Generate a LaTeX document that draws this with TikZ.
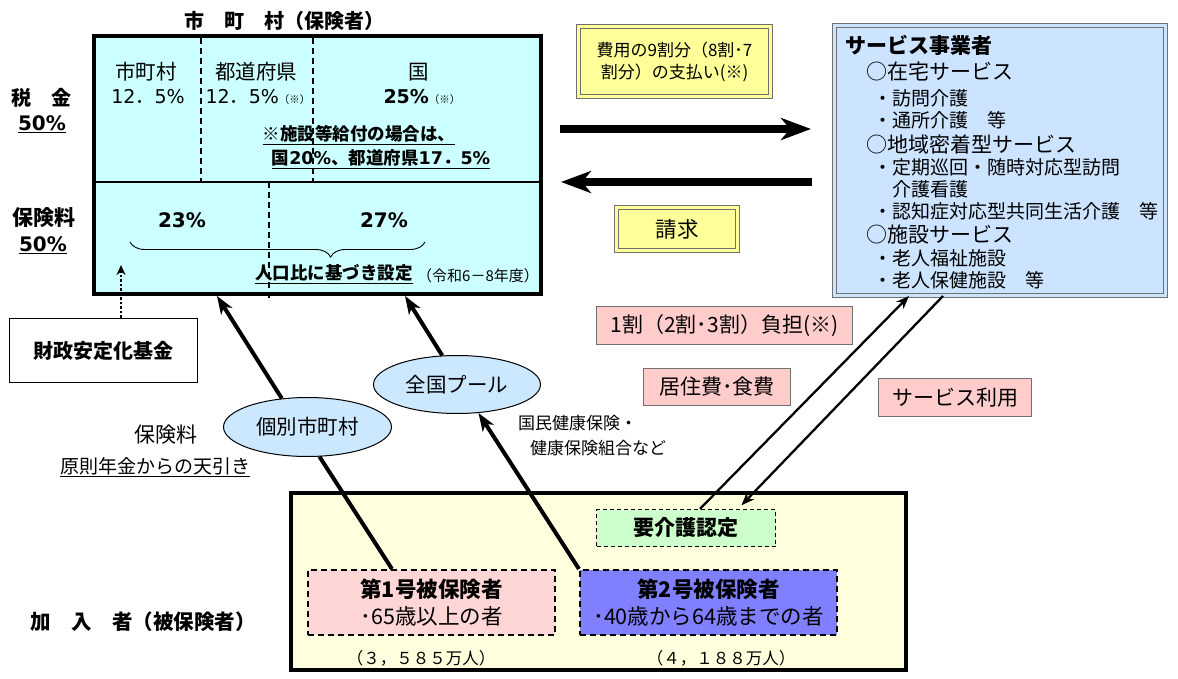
\documentclass[tikz,border=0pt]{standalone}
\usepackage{fontspec}
\setmainfont{Noto Sans CJK JP}
\newfontfamily\numfont{DejaVu Sans}
\usetikzlibrary{arrows.meta,shapes.geometric,decorations.pathreplacing,positioning}

\definecolor{municyan}{HTML}{CCFFFF}
\definecolor{payyellow}{HTML}{FFFF99}
\definecolor{servblue}{HTML}{CCE4FF}
\definecolor{poolblue}{HTML}{CCE8FF}
\definecolor{feepink}{HTML}{FFCCCC}
\definecolor{memberivory}{HTML}{FFFFDD}
\definecolor{certgreen}{HTML}{CCFFCC}
\definecolor{firstpink}{HTML}{FFD6D6}
\definecolor{secondblue}{HTML}{8080FF}
\definecolor{edgegray}{HTML}{707070}

\newcommand{\fsz}[2]{\fontsize{#1}{#2}\selectfont}
\newcommand{\digits}[1]{{\numfont #1}}

\begin{document}
\begin{tikzpicture}[
    x=1pt, y=-1pt,
    every node/.style={inner sep=0pt},
    heavybox/.style={draw, line width=4pt},
    twinbox/.style={draw=edgegray, line width=1pt, double=#1, double distance=3pt, fill=#1},
    pinkbox/.style={draw=edgegray, line width=1.2pt, fill=feepink, font=\fsz{21}{25}},
    dashbox/.style={draw, dash pattern=on 6pt off 4pt, line width=2pt, align=center},
    poolnode/.style={ellipse, draw, line width=1pt, fill=poolblue, font=\fsz{20.5}{24}},
    bigarrow/.style={line width=8pt, -{Stealth[length=30pt,width=22pt,inset=9pt]}},
    flowline/.style={line width=4pt},
    flowarrow/.style={line width=4pt, -{Stealth[length=18pt,width=13pt,inset=5pt]}},
    svcarrow/.style={line width=2.3pt, -{Stealth[length=13pt,width=10pt,inset=4pt]}},
    dotarrow/.style={line width=2.2pt, dash pattern=on 2.5pt off 2pt, -{Stealth[length=10pt,width=9pt]}},
    divider/.style={line width=1.2pt, dash pattern=on 6pt off 4pt},
    sidelbl/.style={font=\bfseries\fsz{20}{24}},
    cell/.style={font=\fsz{20.5}{24}},
    notetxt/.style={font=\bfseries\fsz{17.5}{21}},
    svchead/.style={anchor=west, font=\fsz{21}{25}},
    svcitem/.style={anchor=west, font=\fsz{19}{23}}
]
\useasboundingbox (0,0) rectangle (1178,679);

% insurer box
\node[sidelbl] (munititle) at (284,21) {市　町　村（保険者）};
\node[heavybox, fill=municyan, minimum width=447pt, minimum height=258pt] (muni) at (317.5,165) {};
\draw[line width=1.2pt] (94,182) -- (541,182);
\draw[divider] (201,38) -- (201,182);
\draw[divider] (313,38) -- (313,182);
\draw[divider] (269,182) -- (269,298);

\node[sidelbl] (taxlbl) at (41,98) {税　金};
\node[sidelbl, font=\bfseries\fsz{20}{24}] (taxpct) at (42,124) {\underline{\digits{50\%}}};
\node[sidelbl, font=\bfseries\fsz{21}{25}] (premlbl) at (44,218) {保険料};
\node[sidelbl, font=\bfseries\fsz{20}{24}] (prempct) at (43,245) {\underline{\digits{50\%}}};

\node[cell] (citylbl) at (146,72) {市町村};
\node[cell, font=\fsz{19}{23}] (citypct) at (148,97) {\digits{12}．\digits{5\%}};
\node[cell] (preflbl) at (256,72) {都道府県};
\node[cell, font=\fsz{19}{23}] (prefpct) at (258,97) {\digits{12}．\digits{5\%}{\fsz{10.5}{12}（※）}};
\node[cell] (natlbl) at (419,72) {国};
\node[cell, font=\fsz{19}{23}] (natpct) at (422,97) {\textbf{\digits{25\%}}{\fsz{10.5}{12}（※）}};
\node[notetxt] (facnote) at (359,135) {\underline{※施設等給付の場合は、}};
\node[notetxt] (facrate) at (381,159) {\underline{国\digits{20\%}、都道府県\digits{17}．\digits{5\%}}};

\node[notetxt, font=\bfseries\fsz{20}{24}] (firstpct) at (182,220) {\digits{23\%}};
\node[notetxt, font=\bfseries\fsz{20}{24}] (secondpct) at (384,220) {\digits{27\%}};
\draw[line width=0.9pt, decorate, decoration={brace, mirror, amplitude=15pt, aspect=0.68}] (130,242) -- (425,242);
\node[notetxt] (ratio) at (334,274) {\underline{人口比に基づき設定}};
\node[font=\fsz{15}{18}] (period) at (478,276) {（令和6－8年度）};

% stabilization fund
\node[draw, line width=1.3pt, fill=white, minimum width=188pt, minimum height=64pt, font=\bfseries\fsz{20}{24}] (fund) at (103.5,350.5) {財政安定化基金};
\coordinate (fundtip) at (121,265);
\draw[dotarrow] (fund.north -| fundtip) -- (fundtip);

% payment and claim
\node[twinbox=payyellow, minimum width=192pt, minimum height=70pt, align=center, font=\fsz{17}{22}] (pay) at (674.5,61.5) {費用の9割分（8割･7\\割分）の支払い(※)};
\node[twinbox=payyellow, minimum width=121pt, minimum height=43pt, font=\fsz{21.5}{25}] (claim) at (677,229) {請求};

% service providers
\node[twinbox=servblue, minimum width=331pt, minimum height=270pt] (serv) at (1000,160.5) {};
\node[svchead, font=\bfseries\fsz{21}{25}] (servtitle) at (845,45) {サービス事業者};
\node[svchead] (homesvc) at (866,71) {○在宅サービス};
\node[svcitem] (visitcare) at (873,98) {・訪問介護};
\node[svcitem] (daycare) at (873,120) {・通所介護　等};
\node[svchead] (areasvc) at (866,144) {○地域密着型サービス};
\node[svcitem] (patrol) at (873,167) {・定期巡回・随時対応型訪問};
\node[svcitem] (patrol2) at (873,189) {\phantom{・}介護看護};
\node[svcitem] (dementia) at (873,211) {・認知症対応型共同生活介護　等};
\node[svchead] (facsvc) at (866,235) {○施設サービス};
\node[svcitem] (welfare) at (873,258) {・老人福祉施設};
\node[svcitem] (health) at (873,280) {・老人保健施設　等};

\draw[bigarrow, shorten <=17pt, shorten >=23pt] (muni.east |- 0,129) -- (serv.west |- 0,129);
\draw[bigarrow, shorten <=22pt, shorten >=18pt] (serv.west |- 0,182) -- (muni.east |- 0,182);

% user charges
\node[pinkbox, minimum width=256pt, minimum height=38pt] (copay) at (724.5,325.5) {1割（2割･3割）負担(※)};
\node[pinkbox, minimum width=147pt, minimum height=37pt] (board) at (717,387) {居住費･食費};
\node[pinkbox, minimum width=153pt, minimum height=38pt] (svcuse) at (955,397.5) {サービス利用};

% members
\node[heavybox, fill=memberivory, minimum width=615pt, minimum height=177pt] (members) at (598.5,581.5) {};
\node[sidelbl, font=\bfseries\fsz{20.5}{24}] (memberlbl) at (143,622) {加　入　者（被保険者）};
\node[draw, line width=1.3pt, dash pattern=on 4pt off 3pt, fill=certgreen, minimum width=179pt, minimum height=37pt, font=\bfseries\fsz{21}{25}] (cert) at (686,528) {要介護認定};
\node[dashbox, fill=firstpink, minimum width=247pt, minimum height=65pt, font=\fsz{21.5}{27}] (ins1) at (431.5,602.5) {\textbf{第1号被保険者}\\･65歳以上の者};
\node[dashbox, fill=secondblue, minimum width=257pt, minimum height=65pt, font=\fsz{21.5}{27}] (ins2) at (708.5,602.5) {\textbf{第2号被保険者}\\･40歳から64歳までの者};
\node[font=\fsz{16.5}{20}] (count1) at (421,658) {（３，５８５万人）};
\node[font=\fsz{16.5}{20}] (count2) at (721,658) {（４，１８８万人）};

% premiums
\node[poolnode, minimum width=168pt, minimum height=59pt] (localpool) at (307.5,427) {個別市町村};
\node[poolnode, minimum width=167pt, minimum height=58pt] (natpool) at (457,384.5) {全国プール};
\node[font=\fsz{21}{25}] (premtxt) at (166,435) {保険料};
\node[font=\fsz{19}{23}] (pension) at (155,467) {\underline{原則年金からの天引き}};
\node[anchor=west, font=\fsz{17}{21}] (nhi) at (518,423) {国民健康保険・};
\node[anchor=west, font=\fsz{17}{21}] (union) at (530,448) {健康保険組合など};

\draw[flowline] (ins1.north -| 392,0) -- (localpool.-68);
\draw[flowarrow] (localpool.132) -- (muni.south -| 217,0);
\draw[flowarrow] (ins2.north west) -- (natpool.-53);
\draw[flowarrow] (natpool.117) -- (muni.south -| 405,0);

\draw[svcarrow] (cert.north -| 700,0) -- (serv.south -| 909,0);
\draw[svcarrow, shorten >=5pt] (serv.south -| 943,0) -- (cert.north -| 738,0);
\end{tikzpicture}
\end{document}
